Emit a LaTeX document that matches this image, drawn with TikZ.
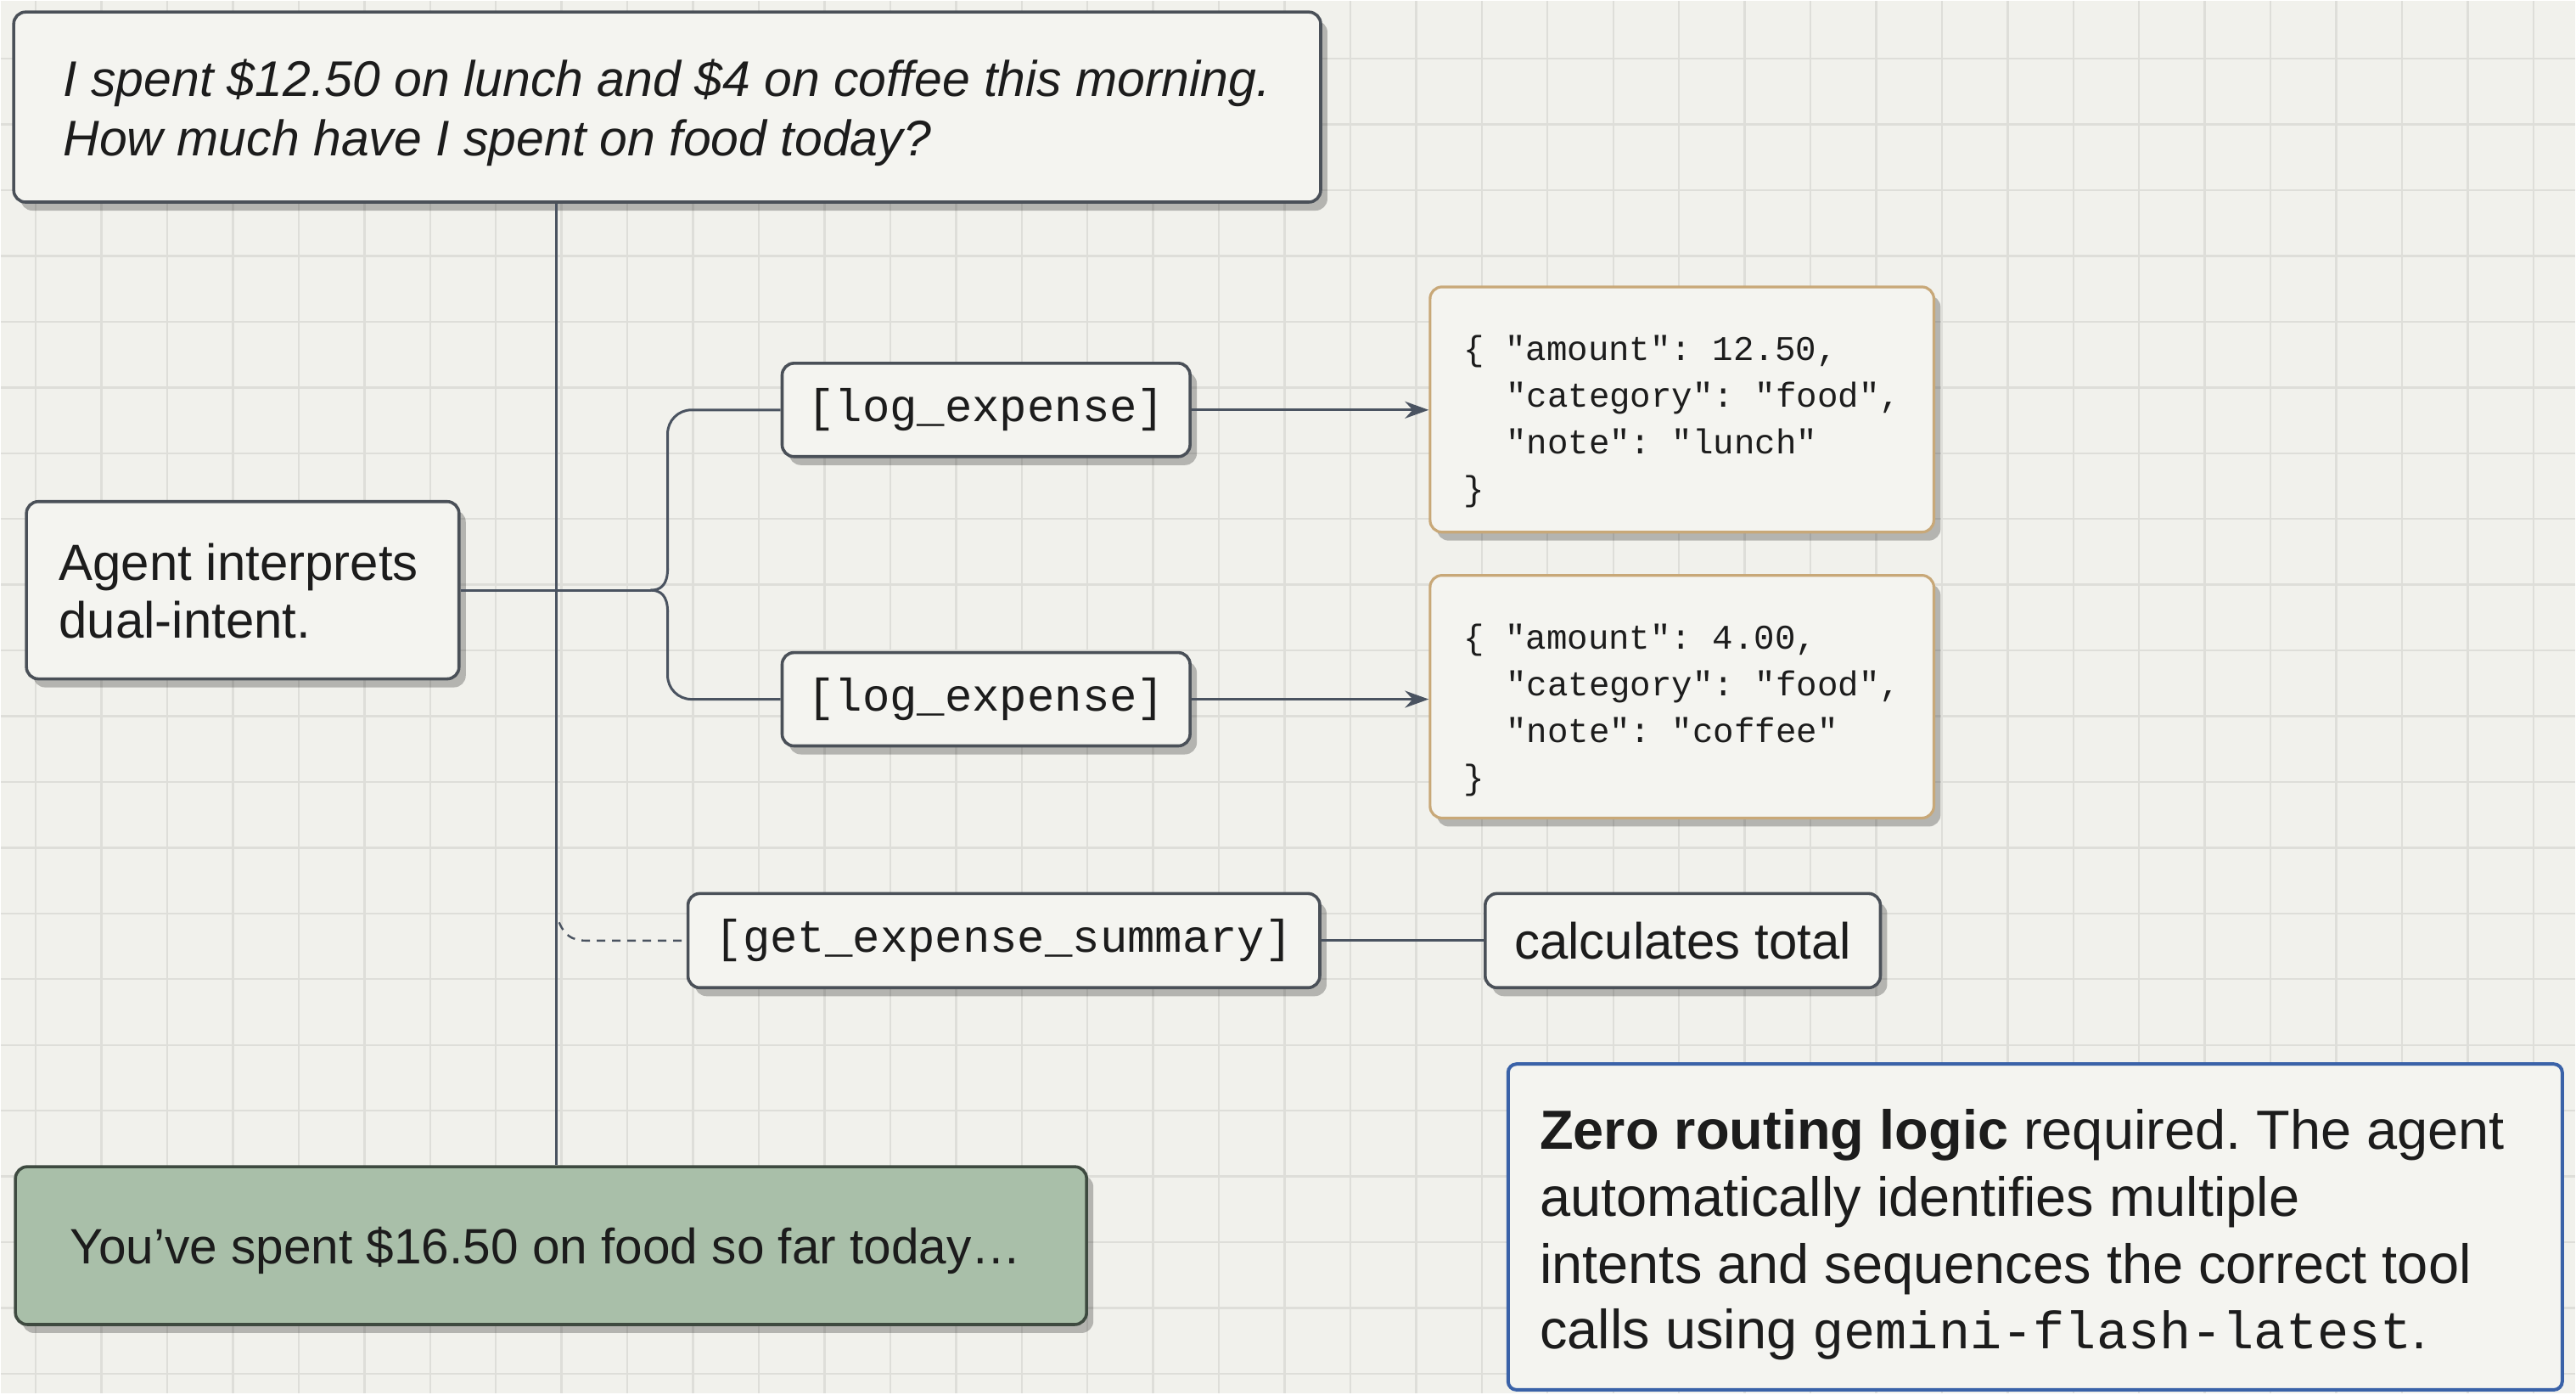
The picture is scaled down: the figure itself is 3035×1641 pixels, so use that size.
\documentclass[tikz,border=0pt]{standalone}
\usepackage{fontspec}
\setmainfont{Liberation Sans}
\setmonofont{Liberation Mono}
\usetikzlibrary{shadows,arrows.meta}
\frenchspacing
\definecolor{bgc}{HTML}{F1F1EC}
\definecolor{gridc}{HTML}{DEDED9}
\definecolor{boxfill}{HTML}{F4F4F0}
\definecolor{boxline}{HTML}{4A5058}
\definecolor{connc}{HTML}{4A5360}
\definecolor{jsonline}{HTML}{C8A878}
\definecolor{greenfill}{HTML}{A9BFA9}
\definecolor{greenline}{HTML}{3E4A40}
\definecolor{blueline}{HTML}{3A62A8}
\definecolor{textc}{HTML}{1C1C1C}
\begin{document}
\begin{tikzpicture}[x=0.5pt,y=-0.5pt,
 shad/.style={drop shadow={shadow xshift=4pt,shadow yshift=-5pt,fill=black,opacity=0.25}},
 box/.style={draw=boxline,line width=1.8pt,fill=boxfill,rounded corners=7pt,inner sep=0pt,shad},
 jbox/.style={box,draw=jsonline,line width=1.6pt},
 gbox/.style={box,draw=greenline,fill=greenfill},
 nbox/.style={draw=blueline,line width=2pt,fill=boxfill,rounded corners=5pt,inner sep=0pt},
 conn/.style={draw=connc,line width=1.5pt},
 arr/.style={conn,-{Stealth[length=14pt,width=10pt]}},
 txt/.style={inner sep=0pt,text=textc,font=\fontsize{30}{36}\selectfont},
 ltxt/.style={txt,anchor=base west},
 ntxt/.style={txt,anchor=base west,font=\fontsize{32.5}{38}\selectfont},
 mono/.style={inner sep=0pt,text=textc,font=\ttfamily\fontsize{27}{30}\selectfont},
 jtxt/.style={inner sep=0pt,text=textc,font=\ttfamily\fontsize{20.4}{26}\selectfont,anchor=base west}]
% background and grid
\fill[bgc] (0,0) rectangle (3035,1641);
\foreach \gx in {41,118.5,...,3035} \draw[gridc,line width=1.2pt] (\gx,0) -- (\gx,1641);
\foreach \gy in {68,145.5,...,1641} \draw[gridc,line width=1.2pt] (0,\gy) -- (3035,\gy);
\useasboundingbox (0,0) rectangle (3035,1641);

% query
\node[box,minimum width=770.5pt,minimum height=112pt] (q) at (785.5,125) {};
\node[ltxt,font=\itshape\fontsize{29.5}{35}\selectfont] (q1) at (73,112) {I spent \$12.50 on lunch and \$4 on coffee this morning.};
\node[ltxt,font=\itshape\fontsize{29.5}{35}\selectfont] (q2) at (73,182) {How much have I spent on food today?};

% agent
\node[box,minimum width=255pt,minimum height=104.5pt] (a) at (285,694.5) {};
\node[ltxt] (a1) at (68,683) {Agent interprets};
\node[ltxt] (a2) at (68,751) {dual-intent.};

% tool calls
\node[box,mono,minimum width=240.5pt,minimum height=55pt] (l1) at (1161.5,482) {[log\_expense]};
\node[box,mono,minimum width=240.5pt,minimum height=55pt] (l2) at (1161.5,823) {[log\_expense]};

% json
\node[jbox,minimum width=297pt,minimum height=144.5pt] (j1) at (1982,481.5) {};
\node[jtxt] (j1a) at (1724,424) {\{ "amount": 12.50,};
\node[jtxt] (j1b) at (1774,479) {"category": "food",};
\node[jtxt] (j1c) at (1774,534) {"note": "lunch"};
\node[jtxt] (j1d) at (1724,589) {\}};
\node[jbox,minimum width=297pt,minimum height=143pt] (j2) at (1982,820) {};
\node[jtxt] (j2a) at (1724,764) {\{ "amount": 4.00,};
\node[jtxt] (j2b) at (1774,819) {"category": "food",};
\node[jtxt] (j2c) at (1774,874) {"note": "coffee"};
\node[jtxt] (j2d) at (1724,929) {\}};

% summary
\node[box,mono,minimum width=372.5pt,minimum height=55.5pt] (s) at (1182.5,1107.5) {[get\_expense\_summary]};
\node[box,txt,minimum width=233pt,minimum height=55.5pt] (c) at (1983,1107.5) {calculates total};

% answer
\node[gbox,minimum width=631.5pt,minimum height=93pt] (g) at (648.5,1467) {};
\node[ltxt,font=\fontsize{29.3}{35}\selectfont] (g1) at (81,1488) {You’ve spent \$16.50 on food so far today…};

% note
\node[nbox,minimum width=621.5pt,minimum height=192pt] (n) at (2398.5,1445) {};
\node[ntxt] (n1) at (1814,1353) {{\bfseries Zero routing logic} required. The agent};
\node[ntxt] (n2) at (1814,1432) {automatically identifies multiple};
\node[ntxt] (n3) at (1814,1511) {intents and sequences the correct tool};
\node[ntxt] (n4) at (1814,1589) {calls using {\ttfamily\fontsize{31}{36}\selectfont gemini-flash-latest}.};

% connectors
\coordinate (tk) at (655,0);
\draw[conn] (q.south -| tk) -- (g.north -| tk);
\coordinate (bt) at (766,694.5);
\draw[conn] (a.east) -- (bt);
\draw[conn,rounded corners=14pt] (l1.west) -- (786,482) -- (786,670);
\draw[conn] (786,669) .. controls (786,688) and (778,694.5) .. (bt);
\draw[conn] (bt) .. controls (778,694.5) and (786,701) .. (786,720);
\draw[conn,rounded corners=14pt] (786,719) -- (786,823) -- (l2.west);
\draw[arr] (l1.east) -- (l1.east -| j1.west);
\draw[arr] (l2.east) -- (l2.east -| j2.west);
\coordinate (ds) at (658,1086);
\draw[conn,line width=1.2pt,dash pattern=on 5pt off 4pt] (ds) .. controls (664,1100) and (672,1107.5) .. (690,1107.5) -- (s.west);
\draw[conn] (s.east) -- (c.west);
\end{tikzpicture}
\end{document}
